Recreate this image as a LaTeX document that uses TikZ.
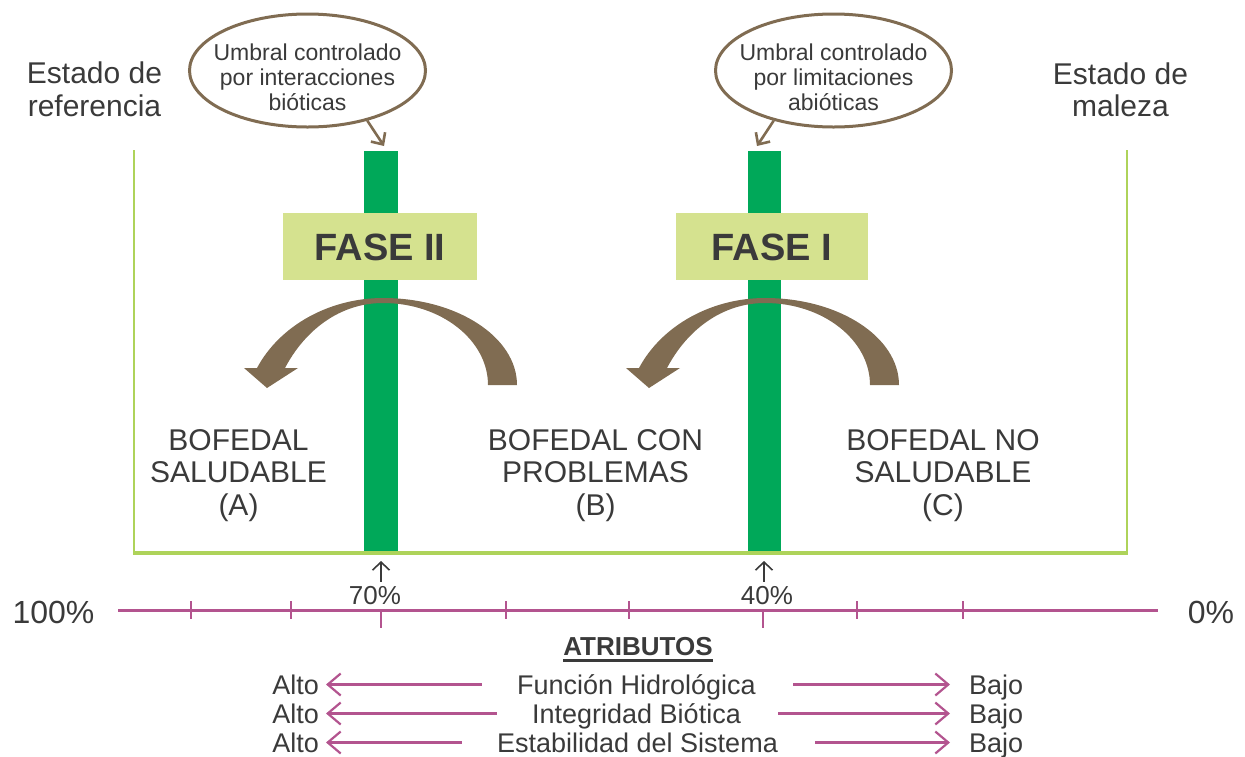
\documentclass[tikz,border=0pt]{standalone}
\usepackage{fontspec}
\setmainfont{Liberation Sans}
\usetikzlibrary{arrows.meta,shapes.geometric}
\definecolor{txt}{HTML}{3A3A3A}
\definecolor{brn}{HTML}{806C52}
\definecolor{gbar}{HTML}{00A859}
\definecolor{gbox}{HTML}{D5E28F}
\definecolor{gframe}{HTML}{AED35A}
\definecolor{pnk}{HTML}{B3548F}
\begin{document}
\begin{tikzpicture}[x=1pt,y=-1pt,
  every node/.style={text=txt,inner sep=0pt},
  big/.style={font=\fontsize{30}{32.5}\selectfont,align=center,anchor=north},
  elltext/.style={font=\fontsize{23}{25}\selectfont,align=center,anchor=north},
  bubble/.style={draw=brn,line width=3pt,shape=ellipse,minimum width=236pt,minimum height=113pt},
  bar/.style={fill=gbar,minimum width=34pt,minimum height=400pt},
  fasebox/.style={fill=gbox,minimum height=67pt,font=\fontsize{38}{40}\selectfont\bfseries,text height=27pt,text depth=0pt},
  pct/.style={font=\fontsize{26}{28}\selectfont,text height=18.6pt,text depth=0pt},
  endpct/.style={font=\fontsize{32}{34}\selectfont,text height=23pt,text depth=0pt},
  rowtxt/.style={font=\fontsize{27}{29}\selectfont,text height=19.4pt,text depth=0pt},
  rowarr/.style={draw=pnk,line width=2.2pt,-{Straight Barb[length=13pt,width=22pt,line width=2.2pt]}},
  callarr/.style={draw=brn,line width=2.6pt,-{Straight Barb[length=9pt,width=17pt,line width=2.6pt]}},
  uparr/.style={draw=txt,line width=1.6pt,-{Straight Barb[length=8pt,width=17pt,line width=1.6pt]}},
  tick/.style={draw=pnk,line width=1.4pt},
  bigarrow/.style={fill=brn}
]
\useasboundingbox (0,0) rectangle (1245,756);

% frame
\draw[gframe,line width=1.5pt] (134,150) -- (134,553);
\draw[gframe,line width=1.5pt] (1127,150) -- (1127,553);
\draw[gframe,line width=3.5pt] (133,553) -- (1128,553);

% green bars
\node[bar] (b1) at (381,351) {};
\node[bar,minimum width=33pt] (b2) at (764.5,351) {};

% phase boxes
\node[fasebox,minimum width=194pt] (f2) at (380,246.5) {FASE II};
\node[fasebox,minimum width=192pt] (f1) at (772,246.5) {FASE I};

% curved arrows
\foreach \s in {0,382}{
\fill[bigarrow,shift={(\s,0)}] (517,385) .. controls (517,337) and (457,298) .. (383,298)
  .. controls (330,298) and (280,325) .. (257,368) -- (244,368) -- (267,388) -- (298,368) -- (285,368)
  .. controls (305,330) and (340,303) .. (383,303)
  .. controls (441,303) and (488,340) .. (488,385) -- cycle;
}

% bubbles
\node[bubble] (e1) at (307.5,70.5) {};
\node[elltext] (t1) at (307.5,44) {Umbral controlado\\por interacciones\\bióticas};
\node[bubble] (e2) at (833.5,70.5) {};
\node[elltext] (t2) at (833.5,44) {Umbral controlado\\por limitaciones\\abióticas};
\coordinate (c1) at (384,146);
\coordinate (c2) at (757,146);
\draw[callarr] (e1.-40) -- (c1);
\draw[callarr] (e2.220) -- (c2);

% state labels
\node[big] (ref) at (94.5,61.7) {Estado de\\referencia};
\node[big] (mal) at (1120.5,62.5) {Estado de\\maleza};

% bofedal labels
\node[big] (sa) at (238.5,429) {BOFEDAL\\SALUDABLE\\(A)};
\node[big] (sb) at (595.5,429) {BOFEDAL CON\\PROBLEMAS\\(B)};
\node[big] (sc) at (943,429) {BOFEDAL NO\\SALUDABLE\\(C)};

% percent markers
\node[pct] (p70) at (375,595) {70\%};
\node[pct] (p40) at (767,595) {40\%};
\coordinate (a70) at (381,561);
\coordinate (a40) at (764,561);
\draw[uparr] (p70.north -| a70) ++(0,-4) -- (a70);
\draw[uparr] (p40.north -| a40) ++(0,-4) -- (a40);

% axis
\node[endpct] (p100) at (53.5,612) {100\%};
\node[endpct] (p0) at (1211,612) {0\%};
\draw[pnk,line width=3pt] (118,610) -- (1158,610);
\foreach \x in {191,291,506,629,857,963} \draw[tick] (\x,601) -- (\x,619);
\foreach \x in {381,763} \draw[tick] (\x,610) -- (\x,628);

% attributes
\node[font=\fontsize{26}{28}\selectfont\bfseries,text height=18.6pt,text depth=0pt] (atr) at (638,646.5) {ATRIBUTOS};
\draw[txt,line width=2.5pt] ([yshift=-14pt]atr.west) -- ([yshift=-14pt]atr.east);

\foreach \i/\y/\xm/\t in {1/684.5/636.5/Función Hidrológica,2/713.5/636.5/Integridad Biótica,3/742.5/637.5/Estabilidad del Sistema}{
  \node[rowtxt,anchor=east] (al\i) at (319,\y) {Alto};
  \node[rowtxt] (m\i) at (\xm,\y) {\t};
  \node[rowtxt,anchor=west] (bj\i) at (969,\y) {Bajo};
  \draw[rowarr,shorten <=35pt,shorten >=7pt] (m\i.west) -- (al\i.east);
  \draw[rowarr,shorten <=37pt,shorten >=19pt] (m\i.east) -- (bj\i.west);
}
\end{tikzpicture}
\end{document}
